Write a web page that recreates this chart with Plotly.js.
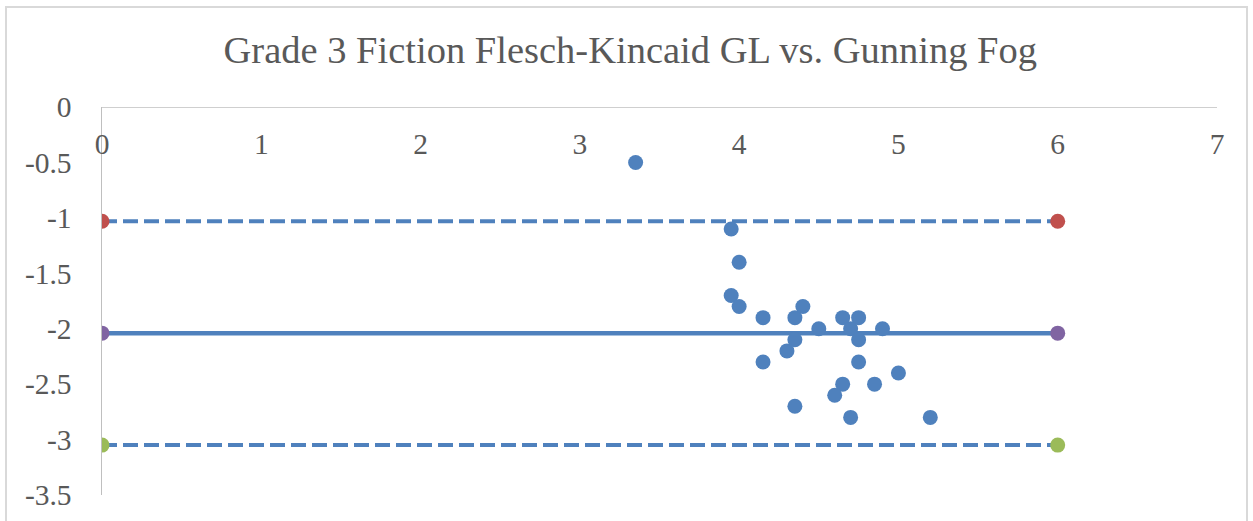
<!DOCTYPE html>
<html>
<head>
<meta charset="utf-8">
<script src="https://cdn.plot.ly/plotly-3.0.1.min.js"></script>
<style>html,body{margin:0;padding:0;background:#fff;}#chart{width:1253px;height:521px;}</style>
</head>
<body>
<div id="chart"></div>
<script>
// Scatter data: Flesch-Kincaid GL vs difference
var pointX = [3.35, 3.95, 4.0, 3.95, 4.0, 4.15, 4.35, 4.4, 4.5, 4.65, 4.75, 4.7, 4.9, 4.35, 4.3, 4.15, 4.75, 4.75, 4.65, 4.6, 4.85, 4.35, 4.7, 5.0, 5.2];
var pointY = [-0.5, -1.1, -1.4, -1.7, -1.8, -1.9, -1.9, -1.8, -2.0, -1.9, -1.9, -2.0, -2.0, -2.1, -2.2, -2.3, -2.1, -2.3, -2.5, -2.6, -2.5, -2.7, -2.8, -2.4, -2.8];

// Reference lines (mean and limits of agreement)
var lineX = [0, 6];
var upperY = [-1.03, -1.03];
var meanY = [-2.04, -2.04];
var lowerY = [-3.05, -3.05];

// Tick labels
var xTickVals = [0, 1, 2, 3, 4, 5, 6, 7];
var xTickText = ["0", "1", "2", "3", "4", "5", "6", "7"];
var yTickVals = [0, -0.5, -1, -1.5, -2, -2.5, -3, -3.5];
var yTickText = ["0", "-0.5", "-1", "-1.5", "-2", "-2.5", "-3", "-3.5"];

var blue = "#4F81BD";
var serif = "Times New Roman, Liberation Serif, Tinos, Nimbus Roman, DejaVu Serif, serif";
var traces = [
  {x: lineX, y: upperY, mode: "lines", line: {color: blue, width: 4, dash: "15px,6px"}, hoverinfo: "skip"},
  {x: lineX, y: lowerY, mode: "lines", line: {color: blue, width: 4, dash: "15px,6px"}, hoverinfo: "skip"},
  {x: lineX, y: meanY, mode: "lines", line: {color: blue, width: 4.5}, hoverinfo: "skip"},
  {x: lineX, y: upperY, mode: "markers", marker: {color: "#C0504D", size: 15}},
  {x: lineX, y: meanY, mode: "markers", marker: {color: "#8064A2", size: 15}},
  {x: lineX, y: lowerY, mode: "markers", marker: {color: "#9BBB59", size: 15}},
  {x: pointX, y: pointY, mode: "markers", marker: {color: blue, size: 15}}
];

var layout = {
  width: 1253, height: 521,
  showlegend: false,
  paper_bgcolor: "#fff", plot_bgcolor: "#fff",
  margin: {l: 102, r: 36, t: 107, b: 26, pad: 0},
  font: {family: serif, color: "#595959"},
  title: {text: "Grade 3 Fiction Flesch-Kincaid GL vs. Gunning Fog", x: 0.503, xanchor: "center", y: 0.88, yanchor: "bottom",
          font: {family: serif, size: 38.5, color: "#595959"}},
  xaxis: {range: [0, 7], side: "bottom", anchor: "free", position: 0.957,
          tickvals: xTickVals, ticktext: xTickText, showgrid: false, zeroline: false,
          showline: false, ticks: "", ticklabelstandoff: 0, tickfont: {family: serif, size: 29.5, color: "#595959"}, fixedrange: true},
  yaxis: {range: [-3.5, 0], tickvals: yTickVals, ticktext: yTickText, showgrid: false, zeroline: false,
          showline: true, linecolor: "#BFBFBF", linewidth: 1.5, ticks: "", ticklabelstandoff: 23,
          tickfont: {family: serif, size: 29.5, color: "#595959"}, fixedrange: true},
  shapes: [
    {type: "rect", xref: "paper", yref: "paper", layer: "below",
     x0: -96/1115, x1: 1145/1115, y0: -40/388, y1: 1 + 100/388,
     line: {color: "#D9D9D9", width: 2}},
    {type: "line", xref: "x", yref: "y", layer: "below", x0: 0, x1: 7, y0: 0, y1: 0,
     line: {color: "#BFBFBF", width: 1.5}}
  ]
};

Plotly.newPlot("chart", traces, layout, {displayModeBar: false, staticPlot: true});
</script>
</body>
</html>
